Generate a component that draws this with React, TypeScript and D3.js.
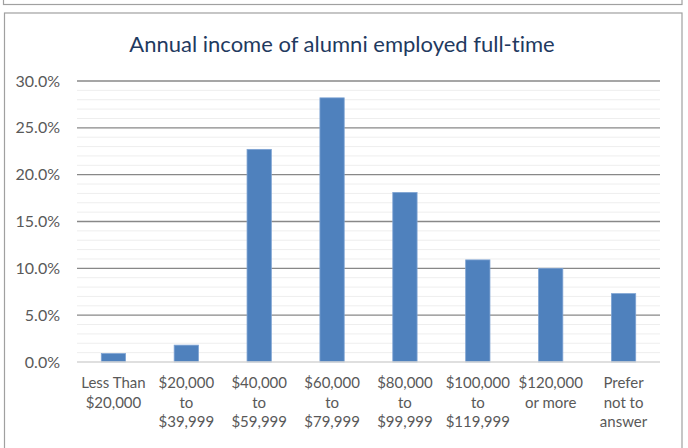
import { useRef, useEffect } from "react";
import * as d3 from "d3";

const W = 688;
const H = 448;

const TITLE = "Annual income of alumni employed full-time";

const categories = [
  "Less Than|$20,000",
  "$20,000|to|$39,999",
  "$40,000|to|$59,999",
  "$60,000|to|$79,999",
  "$80,000|to|$99,999",
  "$100,000|to|$119,999",
  "$120,000|or more",
  "Prefer|not to|answer",
];
const values = [0.009, 0.018, 0.227, 0.282, 0.181, 0.109, 0.1, 0.073];
const majorTicks = [0, 0.05, 0.1, 0.15, 0.2, 0.25, 0.3];
const minorTicks = d3.range(0, 31).map((d) => d / 100);

const FONT = "Lato, 'Open Sans', sans-serif";

export default function App() {
  const svgRef = useRef<SVGSVGElement>(null);

  useEffect(() => {
    if (!svgRef.current) return;
    const svg = d3.select(svgRef.current);
    svg.selectAll("*").remove();

    const margin = { top: 81, right: 28, bottom: 86, left: 77 };
    const x = d3
      .scaleBand()
      .domain(categories)
      .range([margin.left, W - margin.right])
      .paddingInner(2 / 3)
      .paddingOuter(1 / 3);
    const y = d3.scaleLinear().domain([0, 0.3]).range([H - margin.bottom, margin.top]);

    svg.append("rect").attr("width", W).attr("height", H).attr("fill", "#fff");

    // frames
    svg.append("rect")
      .attr("x", 3.5).attr("y", -10).attr("width", 678.5).attr("height", 14.5)
      .attr("fill", "#fff").attr("stroke", "#a0a0a0").attr("stroke-width", 1.2);
    svg.append("rect")
      .attr("x", 4.5).attr("y", 13).attr("width", 677.5).attr("height", H)
      .attr("fill", "#fff").attr("stroke", "#a0a0a0").attr("stroke-width", 1.2);

    // title
    svg.append("text")
      .attr("x", 342).attr("y", 52)
      .attr("text-anchor", "middle")
      .attr("fill", "#1f3a5f")
      .style("font-family", FONT)
      .style("font-size", "22px")
      .style("font-variant-ligatures", "none")
      .text(TITLE);

    const g = svg.append("g");

    // minor grid
    g.selectAll("line.minor")
      .data(minorTicks.filter((t) => Math.round(t * 100) % 5 !== 0))
      .join("line")
      .attr("class", "minor")
      .attr("x1", margin.left).attr("x2", W - margin.right)
      .attr("y1", (d) => y(d)).attr("y2", (d) => y(d))
      .attr("stroke", "#eeeeee").attr("stroke-width", 1);

    // major grid
    g.selectAll("line.major")
      .data(majorTicks.filter((t) => t > 0))
      .join("line")
      .attr("class", "major")
      .attr("x1", margin.left).attr("x2", W - margin.right)
      .attr("y1", (d) => y(d)).attr("y2", (d) => y(d))
      .attr("stroke", "#888888").attr("stroke-width", 1.3);

    // bars
    g.selectAll("rect.bar")
      .data(values)
      .join("rect")
      .attr("class", "bar")
      .attr("x", (_d, i) => x(categories[i]) as number)
      .attr("y", (d) => y(d))
      .attr("width", x.bandwidth())
      .attr("height", (d) => y(0) - y(d))
      .attr("fill", "#4f81bd")
      .attr("stroke", "#7ea3d3")
      .attr("stroke-width", 0.8);

    // baseline
    g.append("line")
      .attr("x1", margin.left).attr("x2", W - margin.right)
      .attr("y1", y(0)).attr("y2", y(0))
      .attr("stroke", "#d4d4d4").attr("stroke-width", 1.3);

    // y labels
    g.selectAll("text.ylab")
      .data(majorTicks)
      .join("text")
      .attr("class", "ylab")
      .attr("x", 60)
      .attr("y", (d) => y(d))
      .attr("dy", "0.35em")
      .attr("text-anchor", "end")
      .attr("fill", "#595959")
      .style("font-family", FONT)
      .style("font-size", "16px")
      .text((d) => d3.format(".1%")(d));

    // x labels
    const xl = g.selectAll("text.xlab")
      .data(categories)
      .join("text")
      .attr("class", "xlab")
      .attr("x", (d) => (x(d) as number) + x.bandwidth() / 2)
      .attr("y", 388)
      .attr("text-anchor", "middle")
      .attr("fill", "#595959")
      .style("font-family", FONT)
      .style("font-size", "15px");
    xl.selectAll("tspan")
      .data((d) => d.split("|"))
      .join("tspan")
      .attr("x", function () {
        return (this.parentNode as SVGTextElement).getAttribute("x");
      })
      .attr("dy", (_d, i) => (i === 0 ? 0 : 19.5))
      .text((d) => d);
  }, []);

  return (
    <svg
      ref={svgRef}
      width={W}
      height={H}
      style={{ position: "absolute", left: 0, top: 0 }}
    />
  );
}
